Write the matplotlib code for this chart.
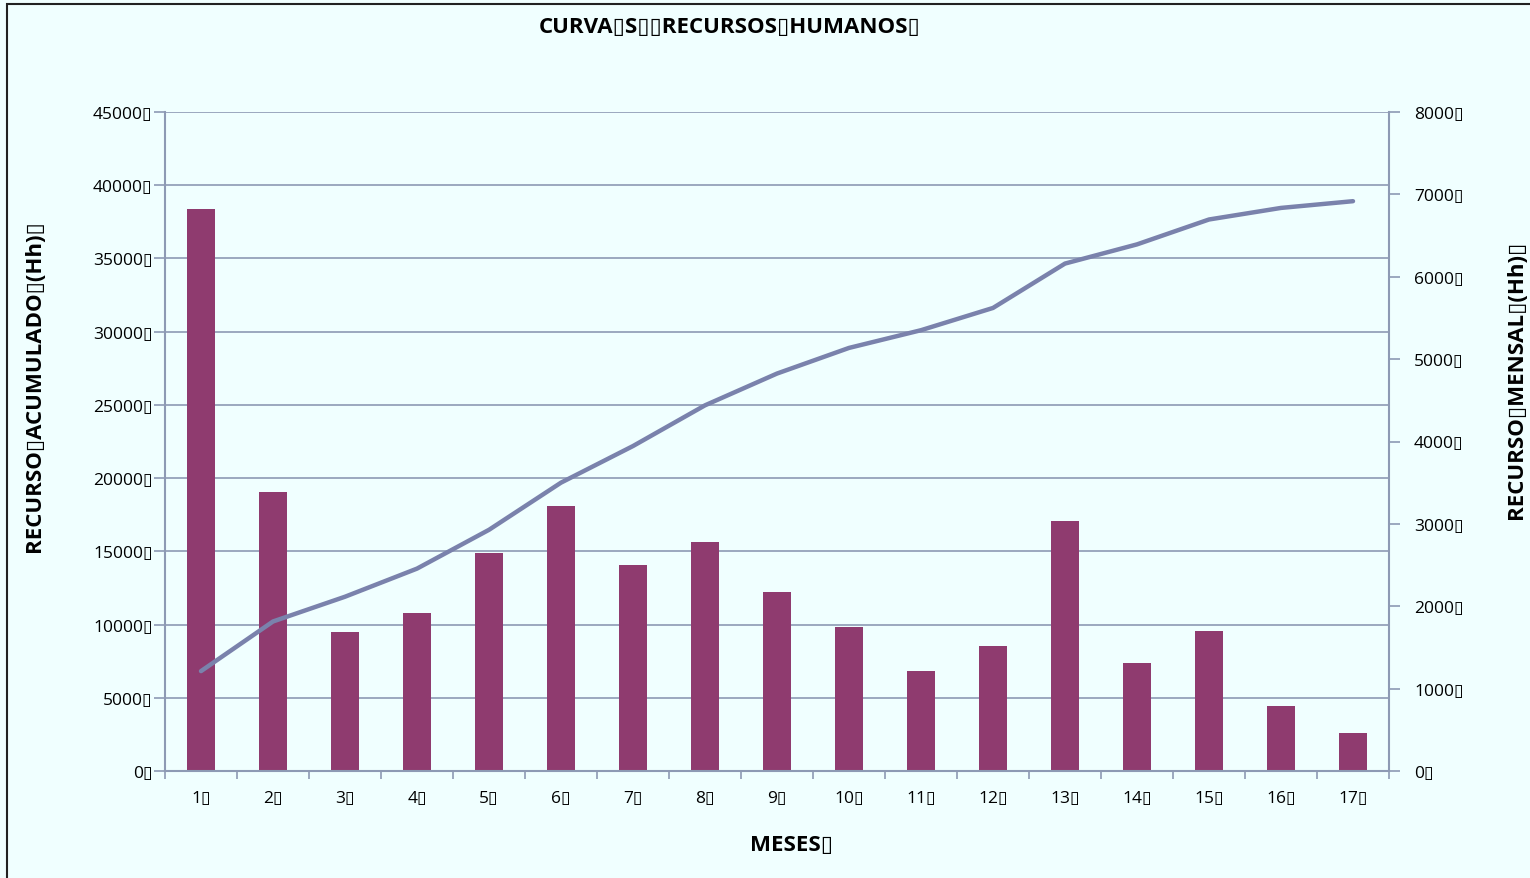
import matplotlib.pyplot as plt
import matplotlib.patches as mpatches
import numpy as np

plt.rcParams['font.family'] = ['Open Sans', 'DejaVu Sans']

BOX = "\u25af"

meses = [str(m) for m in range(1, 18)]
mensal = [6820, 3390, 1690, 1920, 2650, 3220, 2500, 2780, 2170, 1750, 1210, 1520, 3030, 1310, 1700, 790, 460]
acumulado = [6820, 10210, 11900, 13820, 16470, 19690, 22190, 24970, 27140, 28890, 30100, 31620, 34650, 35960, 37660, 38450, 38910]

bar_color = "#8F3B6F"
line_color = "#7A82AC"
grid_color = "#8D9AB4"
bg = "#F0FFFF"

fig = plt.figure(figsize=(15.3, 8.79), dpi=100, facecolor=bg)
fig.patches.append(mpatches.Rectangle((7 / 1530, -0.1), 1.2, 1.1 - 5 / 879,
                                      transform=fig.transFigure, fill=False,
                                      edgecolor="#222222", linewidth=1.5))

ax = fig.add_axes([165 / 1530, 1 - 772 / 879, (1389 - 165) / 1530, (772 - 113) / 879])
ax.set_facecolor(bg)
ax2 = ax.twinx()

x = np.arange(len(meses))

# monthly bars on the right axis
ax2.bar(x, mensal, width=0.39, color=bar_color, zorder=2)
ax2.set_ylim(0, 8000)
ax2.set_yticks(range(0, 8001, 1000))
ax2.set_yticklabels([f"{v}{BOX}" for v in range(0, 8001, 1000)], fontsize=12.5)

# cumulative line on the left axis
ax.set_zorder(ax2.get_zorder() + 1)
ax.patch.set_visible(False)
ax2.patch.set_visible(True)
ax2.patch.set_facecolor(bg)
ax.plot(x, acumulado, color=line_color, linewidth=3.2, solid_capstyle="round", zorder=3)
ax.set_ylim(0, 45000)
ax.set_yticks(range(0, 45001, 5000))
ax.set_yticklabels([f"{v}{BOX}" for v in range(0, 45001, 5000)], fontsize=12.5)
ax.set_xlim(-0.5, len(meses) - 0.5)

# horizontal grid drawn behind the bars
for v in range(5000, 45001, 5000):
    ax2.axhline(v / 45000 * 8000, color=grid_color, linewidth=1.2, zorder=1)

ax.set_xticks(np.arange(-0.5, len(meses), 1))
ax.set_xticklabels([])
ax.set_xticks(x, minor=True)
ax.set_xticklabels([f"{m}{BOX}" for m in meses], minor=True, fontsize=12.5)
ax.tick_params(axis="x", which="minor", length=0, pad=14)
ax.tick_params(axis="x", which="major", length=6, color=grid_color, width=1.2)
ax.tick_params(axis="y", length=8, color=grid_color, width=1.2, pad=1)
ax2.tick_params(axis="y", length=8, color=grid_color, width=1.2, pad=10)

for a in (ax, ax2):
    for s in a.spines.values():
        s.set_visible(False)
ax.spines["left"].set_visible(True)
ax.spines["bottom"].set_visible(True)
ax2.spines["right"].set_visible(True)
for s in (ax.spines["left"], ax.spines["bottom"], ax2.spines["right"]):
    s.set_color(grid_color)
    s.set_linewidth(1.5)

fig.text(730 / 1530, 1 - 27 / 879, f"CURVA{BOX}S{BOX}{BOX}RECURSOS{BOX}HUMANOS{BOX}",
         ha="center", va="center", fontsize=16, fontweight="bold")
fig.text(791 / 1530, 1 - 846 / 879, f"MESES{BOX}", ha="center", va="center",
         fontsize=16, fontweight="bold")
fig.text(35 / 1530, 1 - 386 / 879, f"RECURSO{BOX}ACUMULADO{BOX}(Hh){BOX}", rotation=90,
         ha="center", va="center", fontsize=16, fontweight="bold")
fig.text(1517 / 1530, 1 - 380 / 879, f"RECURSO{BOX}MENSAL{BOX}(Hh){BOX}", rotation=90,
         ha="center", va="center", fontsize=16, fontweight="bold")

fig.savefig("out.png", dpi=100, facecolor=bg)
